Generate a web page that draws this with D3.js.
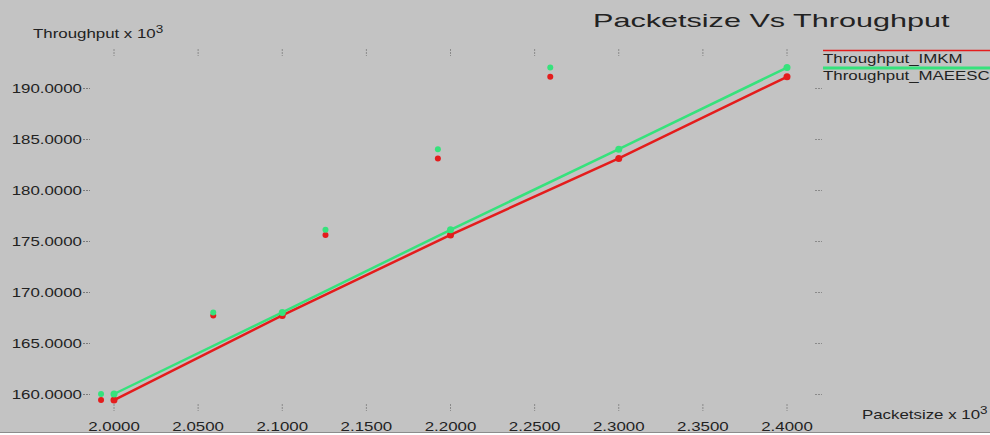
<!DOCTYPE html>
<html>
<head>
<meta charset="utf-8">
<script src="https://cdn.jsdelivr.net/npm/d3@7"></script>
<style>
  body { margin: 0; background: #fff; }
  text { font-family: "Liberation Sans", Arial, sans-serif; fill: #222; }
</style>
</head>
<body>
<div id="chart"></div>
<script>
var w = 990,
  h = 435;

// data (x in packetsize x 10^3, y in throughput x 10^3)
var packetSize = [2.0, 2.1, 2.2, 2.3, 2.4];
var throughputIMKM = [159.4, 167.7, 175.6, 183.1, 191.1];
var throughputMAEESC = [160.0, 168.0, 176.1, 184.0, 192.0];
// the stray duplicate markers drawn at shifted x positions
var strayX = [1.9923, 2.059, 2.1257, 2.1925, 2.2593];
var xTicks = [2.0, 2.05, 2.1, 2.15, 2.2, 2.25, 2.3, 2.35, 2.4];
var yTicks = [160, 165, 170, 175, 180, 185, 190];
var seriesNames = ['Throughput_IMKM', 'Throughput_MAEESC'];
var seriesColors = ['#e41c1c', '#36e27c'];

var stretch = 1.35;

var svg = d3.select('#chart').append('svg')
  .attr('width', w)
  .attr('height', h);

// background
svg.append('rect').attr('width', w).attr('height', 432).attr('fill', '#c3c3c3');
svg.append('line').attr('x1', 0).attr('x2', w).attr('y1', 432.5).attr('y2', 432.5)
  .attr('stroke', '#8c8c8c');

var x = d3.scaleLinear().domain([2.0, 2.4]).range([114, 787]);
var y = d3.scaleLinear().domain([160, 190]).range([394, 88]);

var fmt = d3.format('.4f');

// x tick marks top and bottom, labels at bottom
var xt = svg.append('g').selectAll('g').data(xTicks).enter().append('g');
xt.append('line')
  .attr('x1', function(d) { return x(d); }).attr('x2', function(d) { return x(d); })
  .attr('y1', 49).attr('y2', 56)
  .attr('stroke', '#8a8a8a').attr('stroke-dasharray', '2,1');
xt.append('line')
  .attr('x1', function(d) { return x(d); }).attr('x2', function(d) { return x(d); })
  .attr('y1', 404).attr('y2', 411)
  .attr('stroke', '#8a8a8a').attr('stroke-dasharray', '2,1');
xt.append('text')
  .attr('transform', function(d) { return 'translate(' + x(d) + ',431) scale(' + stretch + ',1)'; })
  .attr('text-anchor', 'middle')
  .style('font-size', '12.5px')
  .text(function(d) { return fmt(d); });

// y tick marks left and right, labels at left
var yt = svg.append('g').selectAll('g').data(yTicks).enter().append('g');
yt.append('line')
  .attr('x1', 83).attr('x2', 90)
  .attr('y1', function(d) { return y(d) + 0.5; }).attr('y2', function(d) { return y(d) + 0.5; })
  .attr('stroke', '#7a7a7a').attr('stroke-dasharray', '2,1');
yt.append('line')
  .attr('x1', 815).attr('x2', 822)
  .attr('y1', function(d) { return y(d) + 0.5; }).attr('y2', function(d) { return y(d) + 0.5; })
  .attr('stroke', '#8a8a8a').attr('stroke-dasharray', '2,1');
yt.append('text')
  .attr('transform', function(d) { return 'translate(82,' + (y(d) + 4.5) + ') scale(' + stretch + ',1)'; })
  .attr('text-anchor', 'end')
  .style('font-size', '12.5px')
  .text(function(d) { return fmt(d); });

// title and axis titles
svg.append('text')
  .attr('transform', 'translate(593,27) scale(1.7,1)')
  .style('font-size', '18px')
  .text('Packetsize Vs Throughput');

var yTitle = svg.append('text')
  .attr('transform', 'translate(33,38) scale(' + stretch + ',1)')
  .style('font-size', '12.5px');
yTitle.append('tspan').text('Throughput x 10');
yTitle.append('tspan').attr('dy', -5).style('font-size', '10px').text('3');

var xTitle = svg.append('text')
  .attr('transform', 'translate(862,419) scale(' + stretch + ',1)')
  .style('font-size', '12.5px');
xTitle.append('tspan').text('Packetsize x 10');
xTitle.append('tspan').attr('dy', -5).style('font-size', '10px').text('3');

// series
var series = [throughputIMKM, throughputMAEESC];
var line = d3.line()
  .x(function(d, i) { return x(packetSize[i]); })
  .y(function(d) { return y(d); });

series.forEach(function(vals, s) {
  var g = svg.append('g');
  g.append('path')
    .attr('d', line(vals))
    .attr('fill', 'none')
    .attr('stroke', seriesColors[s])
    .attr('stroke-width', 2.5);
  g.selectAll('circle.pt').data(vals).enter().append('circle')
    .attr('class', 'pt')
    .attr('cx', function(d, i) { return x(packetSize[i]); })
    .attr('cy', function(d) { return y(d); })
    .attr('r', 3.5)
    .attr('fill', seriesColors[s]);
  g.selectAll('circle.stray').data(vals).enter().append('circle')
    .attr('class', 'stray')
    .attr('cx', function(d, i) { return x(strayX[i]); })
    .attr('cy', function(d) { return y(d); })
    .attr('r', 3)
    .attr('fill', seriesColors[s]);
});

// legend
var lg = svg.append('g').selectAll('g').data(seriesNames).enter().append('g');
lg.append('line')
  .attr('x1', 823).attr('x2', w)
  .attr('y1', function(d, i) { return 50.5 + i * 17.5; })
  .attr('y2', function(d, i) { return 50.5 + i * 17.5; })
  .attr('stroke', function(d, i) { return seriesColors[i]; })
  .attr('stroke-width', function(d, i) { return i ? 3 : 1.5; });
lg.append('text')
  .attr('transform', function(d, i) { return 'translate(823,' + (63 + i * 17) + ') scale(' + stretch + ',1)'; })
  .style('font-size', '12.5px')
  .text(function(d) { return d; });
</script>
</body>
</html>
